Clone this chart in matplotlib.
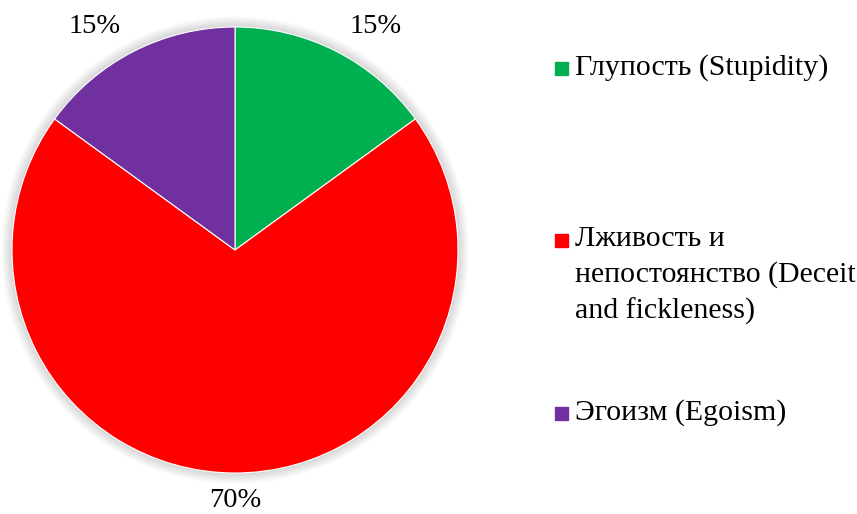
import matplotlib
matplotlib.use("Agg")
import matplotlib.pyplot as plt
from matplotlib.patches import Rectangle, Circle
import numpy as np

plt.rcParams['font.family'] = ['Liberation Serif', 'DejaVu Serif']

labels = ["Глупость (Stupidity)",
          "Лживость и\nнепостоянство (Deceit\nand fickleness)",
          "Эгоизм (Egoism)"]
values = [15, 70, 15]
colors = ["#00B050", "#FF0000", "#7030A0"]

W, H = 857, 514
fig = plt.figure(figsize=(W / 100, H / 100), dpi=100)
fig.patch.set_facecolor("white")

cx, cy, r = 235, 250, 223
ax = fig.add_axes([(cx - r) / W, (H - cy - r) / H, 2 * r / W, 2 * r / H])
ax.axis("off")

# soft shadow
for k in range(8):
    ax.add_patch(Circle((0, 0), 1.0 + 0.006 * (k + 1), color="black",
                        alpha=0.018, lw=0, zorder=0, clip_on=False))

wedges, texts, autotexts = ax.pie(
    values, colors=colors, startangle=90, counterclock=False, radius=1,
    autopct=lambda p: f"{p:.0f}%", pctdistance=1.125,
    wedgeprops=dict(edgecolor="white", linewidth=0.8),
    textprops=dict(fontsize=20.5, color="#000000"))
ax.set_xlim(-1, 1)
ax.set_ylim(-1, 1)
ax.set_aspect("equal")
for t in autotexts:
    x, y = t.get_position()
    if abs(x) > 0.05:
        x = x + 0.12 * np.sign(x)
    t.set_position((x, y))
    t.set_clip_on(False)
    t.set_zorder(5)

# legend drawn manually
ys = [68, 240, 413]
for lab, col, y in zip(labels, colors, ys):
    fig.patches.append(Rectangle(((555) / W, (H - y - 7) / H), 13 / W, 13 / H,
                                 transform=fig.transFigure, color=col))
    fig.text(575 / W, (H - y + 14) / H, lab, fontsize=21.5, va="top", ha="left",
             linespacing=1.45)

fig.savefig("out.png", dpi=100, facecolor="white")
